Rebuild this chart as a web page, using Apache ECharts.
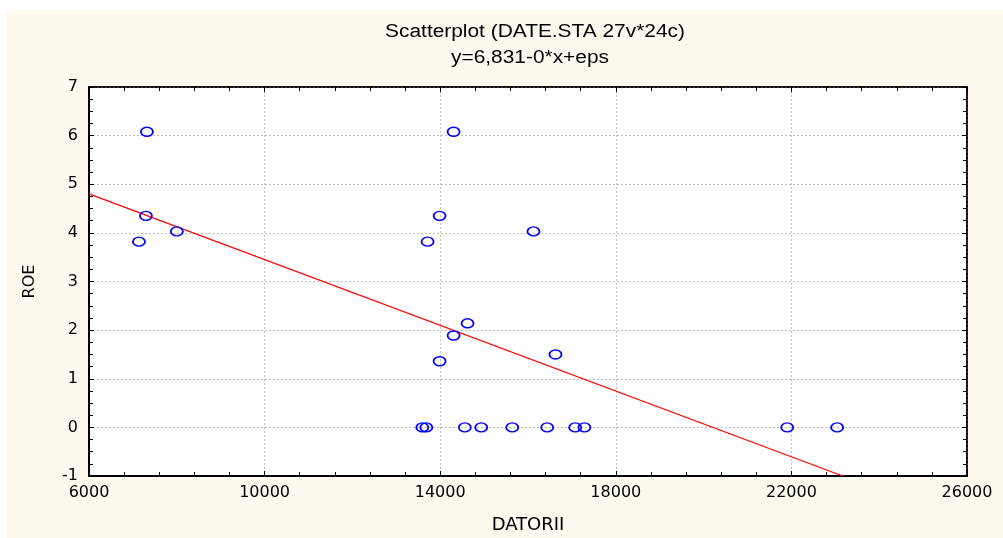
<!DOCTYPE html>
<html>
<head>
<meta charset="utf-8">
<script src="https://cdn.jsdelivr.net/npm/echarts@6/dist/echarts.min.js"></script>
<style>
html,body{margin:0;padding:0;background:#ffffff;}
#chart{width:1003px;height:538px;}
</style>
</head>
<body>
<div id="chart"></div>
<script>
// Data
const titleText = 'Scatterplot (DATE.STA 27v*24c)';
const subtitleText = 'y=6,831-0*x+eps';
const xName = 'DATORII';
const yName = 'ROE';
const datorii = [7138, 7320, 7297, 8002, 13713, 14305, 13986, 16125, 14623, 14305, 13986, 16626,
                 13593, 13684, 14562, 14935, 15641, 16437, 17074, 17285, 21904, 23042];
const roe =     [3.82, 6.08, 4.35, 4.03, 3.82, 6.08, 4.35, 4.03, 2.14, 1.89, 1.36, 1.50,
                 0, 0, 0, 0, 0, 0, 0, 0, 0, 0];
// regression line endpoints (y = 6.831 - 0.000338 x)
const fitX = [6000, 23169];
const fitY = [4.803, -1];

const points = datorii.map((x, i) => [x, roe[i]]);
const fitLine = fitX.map((x, i) => [x, fitY[i]]);

const titleFont = '"Liberation Sans", Arial, sans-serif';
const axisFont = '"DejaVu Sans", sans-serif';
const chart = echarts.init(document.getElementById('chart'), null, {renderer: 'canvas'});

const gridLine = {show: true, lineStyle: {color: '#c0c0c0', type: [2, 2], width: 1}};
const plain = v => String(v);

chart.setOption({
  backgroundColor: 'transparent',
  animation: false,
  graphic: [
    {type: 'rect', z: -100, silent: true, shape: {x: 6, y: 10, width: 997, height: 528}, style: {fill: '#fdf9ee'}},
    {type: 'text', x: 535, y: 32, scaleX: 1.16, style: {text: titleText, font: '18px ' + titleFont, fill: '#000', textAlign: 'center', textVerticalAlign: 'middle'}},
    {type: 'text', x: 530, y: 58, scaleX: 1.16, style: {text: subtitleText, font: '18px ' + titleFont, fill: '#000', textAlign: 'center', textVerticalAlign: 'middle'}}
  ],
  grid: {left: 89, right: 36, top: 87, bottom: 62, outerBoundsMode: 'none', containLabel: false, show: true, backgroundColor: '#ffffff', borderColor: '#000', borderWidth: 1.5},
  xAxis: [
    {
      type: 'value', min: 6000, max: 26000, interval: 4000, position: 'bottom',
      name: xName, nameLocation: 'middle', nameGap: 40,
      nameTextStyle: {fontFamily: axisFont, fontSize: 18, color: '#000'},
      axisLine: {show: true, onZero: false, lineStyle: {color: '#000', width: 2}},
      axisTick: {show: true, inside: true, length: 5, lineStyle: {color: '#000'}},
      minorTick: {show: true, splitNumber: 5, length: 4, lineStyle: {color: '#000'}},
      axisLabel: {fontFamily: axisFont, fontSize: 16, color: '#000', margin: 9, formatter: plain},
      splitLine: gridLine
    },
    {
      type: 'value', min: 6000, max: 26000, interval: 4000, position: 'top',
      axisLine: {show: true, onZero: false, lineStyle: {color: '#000', width: 1.5}},
      axisTick: {show: true, inside: true, length: 5, lineStyle: {color: '#000'}},
      minorTick: {show: true, splitNumber: 5, length: 4, lineStyle: {color: '#000'}},
      axisLabel: {show: false},
      splitLine: {show: false}
    }
  ],
  yAxis: [
    {
      type: 'value', min: -1, max: 7, interval: 1, position: 'left',
      name: yName, nameLocation: 'middle', nameGap: 51, nameRotate: 90,
      nameTextStyle: {fontFamily: axisFont, fontSize: 16, color: '#000'},
      axisLine: {show: true, onZero: false, lineStyle: {color: '#000', width: 2}},
      axisTick: {show: true, inside: true, length: 5, lineStyle: {color: '#000'}},
      minorTick: {show: true, splitNumber: 4, length: 4, lineStyle: {color: '#000'}},
      axisLabel: {fontFamily: axisFont, fontSize: 16, color: '#000', margin: 11, formatter: plain},
      splitLine: gridLine
    },
    {
      type: 'value', min: -1, max: 7, interval: 1, position: 'right',
      axisLine: {show: true, onZero: false, lineStyle: {color: '#000', width: 1.5}},
      axisTick: {show: true, inside: true, length: 5, lineStyle: {color: '#000'}},
      minorTick: {show: true, splitNumber: 4, length: 4, lineStyle: {color: '#000'}},
      axisLabel: {show: false},
      splitLine: {show: false}
    }
  ],
  series: [
    {
      type: 'line', data: fitLine, xAxisIndex: 0, yAxisIndex: 0,
      showSymbol: false, symbol: 'none', clip: true,
      lineStyle: {color: '#ff0000', width: 1.2}, z: 2
    },
    {
      type: 'scatter', data: points, xAxisIndex: 0, yAxisIndex: 0,
      symbol: 'circle', symbolSize: [12, 9],
      itemStyle: {color: 'rgba(0,0,0,0)', borderColor: '#0000ff', borderWidth: 1.6, opacity: 1},
      z: 3
    }
  ]
});
</script>
</body>
</html>
